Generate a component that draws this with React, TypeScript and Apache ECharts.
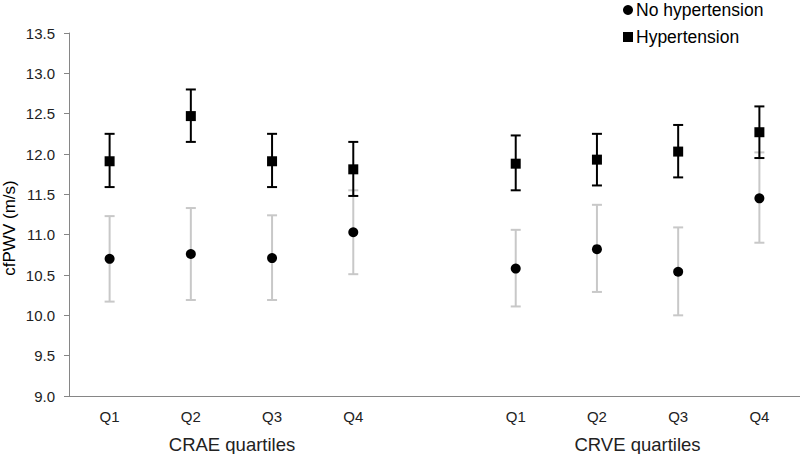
import React, { useEffect, useRef } from "react";
import * as echarts from "echarts";

const categories = ["Q1", "Q2", "Q3", "Q4", "", "Q1", "Q2", "Q3", "Q4"];
const groupTitles = ["CRAE quartiles", "CRVE quartiles"];
const seriesNames = ["No hypertension", "Hypertension"];

const hyperMean = [11.91, 12.47, 11.91, 11.81, null, 11.88, 11.93, 12.03, 12.27];
const hyperLow = [11.59, 12.15, 11.59, 11.48, null, 11.55, 11.61, 11.71, 11.95];
const hyperHigh = [12.25, 12.8, 12.25, 12.15, null, 12.23, 12.25, 12.36, 12.59];

const noHyperMean = [10.7, 10.76, 10.71, 11.03, null, 10.58, 10.82, 10.54, 11.45];
const noHyperLow = [10.17, 10.19, 10.19, 10.51, null, 10.11, 10.29, 10.0, 10.9];
const noHyperHigh = [11.23, 11.33, 11.24, 11.55, null, 11.06, 11.37, 11.09, 12.02];

const yMin = 9.0;
const yMax = 13.5;
const yInterval = 0.5;

const FONT = "Liberation Sans, Arial, sans-serif";

function errData(lo: (number | null)[], hi: (number | null)[]) {
  const out: number[][] = [];
  lo.forEach((l, i) => {
    const h = hi[i];
    if (l != null && h != null) out.push([i, l, h]);
  });
  return out;
}

function makeRender(color: string, lw: number) {
  return (params: any, api: any) => {
    const x = api.value(0);
    const lo = api.value(1);
    const hi = api.value(2);
    const p1 = api.coord([x, lo]);
    const p2 = api.coord([x, hi]);
    const half = 5;
    const style = { stroke: color, lineWidth: lw };
    return {
      type: "group",
      children: [
        { type: "line", shape: { x1: p1[0], y1: p1[1], x2: p2[0], y2: p2[1] }, style },
        { type: "line", shape: { x1: p1[0] - half, y1: p1[1], x2: p1[0] + half, y2: p1[1] }, style },
        { type: "line", shape: { x1: p2[0] - half, y1: p2[1], x2: p2[0] + half, y2: p2[1] }, style },
      ],
    };
  };
}

export default function App() {
  const ref = useRef<HTMLDivElement>(null);
  useEffect(() => {
    document.body.style.margin = "0";
    if (!ref.current) return;
    const chart = echarts.init(ref.current, undefined, { renderer: "svg" });
    chart.setOption({
      animation: false,
      textStyle: { fontFamily: FONT },
      grid: { left: 69, right: 0, top: 33, bottom: 58, containLabel: false },
      legend: {
        orient: "vertical",
        left: 618,
        top: -4,
        itemWidth: 10,
        itemHeight: 10,
        itemGap: 9,
        data: [
          { name: seriesNames[0], icon: "circle" },
          { name: seriesNames[1], icon: "rect" },
        ],
        textStyle: { fontSize: 17.5, color: "#000", lineHeight: 18, fontFamily: FONT, padding: [0, 0, 0, -2] },
      },
      xAxis: {
        type: "category",
        data: categories,
        boundaryGap: true,
        axisLine: { lineStyle: { color: "#868686", width: 1 } },
        axisTick: { show: false },
        axisLabel: { color: "#222", fontSize: 15, margin: 13, interval: 0, fontFamily: FONT },
        splitLine: { show: false },
      },
      yAxis: {
        type: "value",
        min: yMin,
        max: yMax,
        interval: yInterval,
        axisLine: { show: true, lineStyle: { color: "#868686", width: 1 } },
        axisTick: { show: true, inside: false, length: 5, lineStyle: { color: "#868686" } },
        axisLabel: {
          color: "#222",
          fontSize: 15,
          margin: 14,
          fontFamily: FONT,
          formatter: (v: number) => v.toFixed(1),
        },
        splitLine: { show: false },
      },
      graphic: [
        {
          type: "text",
          x: 9,
          y: 228,
          rotation: Math.PI / 2,
          style: {
            text: "cfPWV (m/s)",
            fontSize: 17,
            fontFamily: FONT,
            fill: "#000",
            textAlign: "center",
            textVerticalAlign: "middle",
          },
        },
        {
          type: "text",
          x: 232,
          y: 444,
          style: {
            text: groupTitles[0],
            fontSize: 18.5,
            fontFamily: FONT,
            fill: "#222",
            textAlign: "center",
            textVerticalAlign: "middle",
          },
        },
        {
          type: "text",
          x: 637.5,
          y: 444,
          style: {
            text: groupTitles[1],
            fontSize: 18.5,
            fontFamily: FONT,
            fill: "#222",
            textAlign: "center",
            textVerticalAlign: "middle",
          },
        },
      ],
      series: [
        {
          type: "custom",
          name: "errNo",
          renderItem: makeRender("#c8c8c8", 2),
          data: errData(noHyperLow, noHyperHigh),
          encode: { x: 0, y: [1, 2] },
          z: 1,
          silent: true,
        },
        {
          type: "custom",
          name: "errHyp",
          renderItem: makeRender("#000", 2),
          data: errData(hyperLow, hyperHigh),
          encode: { x: 0, y: [1, 2] },
          z: 2,
          silent: true,
        },
        {
          type: "scatter",
          name: seriesNames[0],
          symbol: "circle",
          symbolSize: 10,
          itemStyle: { color: "#000", opacity: 1 },
          data: noHyperMean,
          z: 3,
        },
        {
          type: "scatter",
          name: seriesNames[1],
          symbol: "rect",
          symbolSize: 10,
          itemStyle: { color: "#000", opacity: 1 },
          data: hyperMean,
          z: 4,
        },
      ],
    });
    return () => chart.dispose();
  }, []);
  return <div ref={ref} style={{ width: 800, height: 454 }} />;
}
